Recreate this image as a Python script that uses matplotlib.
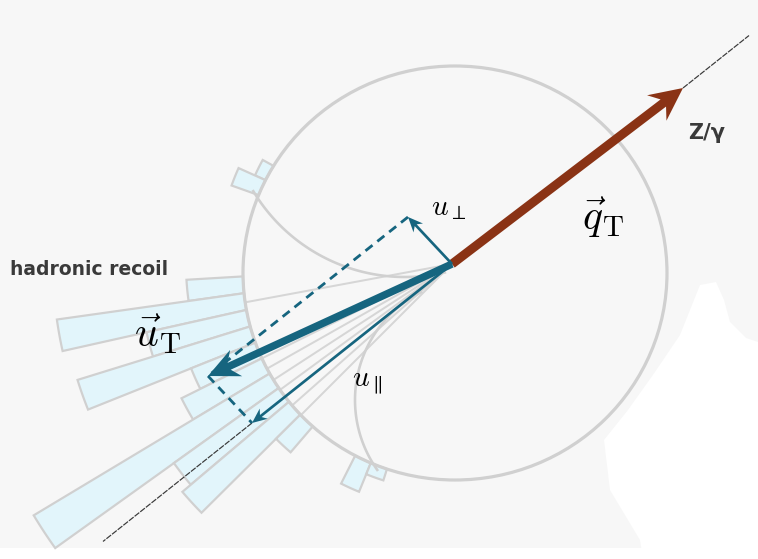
import numpy as np
import matplotlib
matplotlib.use('Agg')
import matplotlib.pyplot as plt
from matplotlib.patches import Polygon, Ellipse, FancyArrow

plt.rcParams['mathtext.fontset'] = 'cm'

# ---------------- data ----------------
# hadronic-recoil polar histogram: bin centre angle (deg, counter-clockwise) and outer radius (px)
bar_angles = [153.5, 158.1, 185.7, 190.3, 194.9, 199.5, 204.1, 208.7, 213.3, 217.9, 222.5, 227.1, 245.5, 250.1]
bar_radii = [216, 234, 266, 399, 313, 392, 281, 302, 488, 342, 353, 248, 246, 227]
bar_width_deg = 4.6
fan_angles = [190.5, 206.4, 209.5, 213.0, 216.2, 221.5, 225.0]

# vectors in pixel units (x right, y down)
origin = np.array([452.0, 264.0])
q_T = np.array([231.0, -176.0])
u_par = np.array([-200.0, 159.0])
u_perp = np.array([-44.0, -47.0])
u_T = u_par + u_perp
axis_low = 1.745     # axis continues beyond u_par tip (in units of u_par)
axis_high = 0.33     # axis continues beyond q_T tip (in units of u_par length)

# detector outline
ell_c = np.array([455.0, 273.0]); ell_a = 212.0; ell_b = 207.0

TEAL = '#16657f'
BROWN = '#8a3315'
GRAY = '#d0d0d0'
BARFILL = '#e2f5fb'

W, H = 758, 559
fig = plt.figure(figsize=(W / 100, H / 100), dpi=100)
fig.patch.set_facecolor('#f7f7f7')
ax = fig.add_axes([0, 0, 1, 1])
ax.set_xlim(0, W); ax.set_ylim(H, 0)
ax.axis('off')
ax.set_facecolor('#f7f7f7')

def px(p):
    return p * 0.72

# white areas of the background
ax.add_patch(Polygon([(0, 548), (W, 548), (W, H), (0, H)], closed=True, fc='white', ec='none', zorder=0))
ax.add_patch(Polygon([(700, 285), (716, 282), (724, 300), (730, 322), (746, 338), (758, 342), (758, 559),
                      (643, 559), (640, 540), (610, 490), (604, 440), (628, 410), (655, 372), (680, 335),
                      (692, 305)], closed=True, fc='white', ec='none', zorder=0))

def direction(deg):
    t = np.deg2rad(deg)
    return np.array([np.cos(t), -np.sin(t)])

def r_inner(deg):
    d = direction(deg)
    p = origin - ell_c
    A = (d[0] / ell_a) ** 2 + (d[1] / ell_b) ** 2
    B = 2 * (p[0] * d[0] / ell_a ** 2 + p[1] * d[1] / ell_b ** 2)
    C = (p[0] / ell_a) ** 2 + (p[1] / ell_b) ** 2 - 1
    return (-B + np.sqrt(B * B - 4 * A * C)) / (2 * A)

# bars
for ang, rout in zip(bar_angles, bar_radii):
    phis = np.linspace(ang - bar_width_deg / 2, ang + bar_width_deg / 2, 16)
    inner = [origin + r_inner(f) * direction(f) for f in phis]
    outer = [origin + rout * direction(f) for f in phis[::-1]]
    ax.add_patch(Polygon(inner + outer, closed=True, fc=BARFILL, ec=GRAY, lw=px(2.2), zorder=2))

# fan lines inside detector
for ang in fan_angles:
    d = direction(ang)
    a = origin + 12 * d
    b = origin + r_inner(ang) * d
    ax.plot([a[0], b[0]], [a[1], b[1]], color='#d6d6d6', lw=px(2), zorder=3, solid_capstyle='butt')

# detector ellipse
ax.add_patch(Ellipse(ell_c, 2 * ell_a, 2 * ell_b, fc='none', ec=GRAY, lw=px(3.2), zorder=3))

# inner arcs (jet cones)
t = np.deg2rad(np.linspace(77, 149, 80))
ax.plot(405 + 177 * np.cos(t), 100 + 177 * np.sin(t), color=GRAY, lw=px(2.6), zorder=3)
t = np.deg2rad(np.linspace(144.7, 243, 80))
ax.plot(476 + 121 * np.cos(t), 400 + 121 * np.sin(t), color=GRAY, lw=px(2.6), zorder=3)

# axis line (visible beyond the arrow tips)
p0 = origin + u_par
p1 = origin + axis_low * u_par
ax.plot([p0[0], p1[0]], [p0[1], p1[1]], color='#3a3a3a', lw=px(1.2), ls=(0, (5, 1)), zorder=4)
q0 = origin + q_T
q1 = origin + q_T - axis_high * u_par
ax.plot([q0[0], q1[0]], [q0[1], q1[1]], color='#3a3a3a', lw=px(1.2), ls=(0, (5, 1)), zorder=4)

# dashed projections
a = origin + u_perp; b = origin + u_T; c = origin + u_par
ax.plot([a[0], b[0]], [a[1], b[1]], color=TEAL, lw=px(2.8), ls=(0, (3.2, 2.2)), zorder=5)
ax.plot([b[0], c[0]], [b[1], c[1]], color=TEAL, lw=px(2.8), ls=(0, (3.2, 2.2)), zorder=5)

# arrows
def arrow(vec, width, hw, hl, color):
    ax.add_patch(FancyArrow(origin[0], origin[1], vec[0], vec[1], width=width, head_width=hw,
                            head_length=hl, length_includes_head=True, overhang=0.25,
                            fc=color, ec='none', lw=0, zorder=6))

arrow(q_T, 9, 32, 33, BROWN)
arrow(u_par, 2.7, 13, 15, TEAL)
arrow(u_perp, 2.7, 13, 15, TEAL)
arrow(u_T, 7.5, 29, 31, TEAL)

# labels
ax.text(10, 275, 'hadronic recoil', fontsize=13.5, fontweight='bold', color='#3a3a3a',
        ha='left', va='baseline', zorder=7)
ax.text(688, 139, r'Z/γ', fontsize=15, fontweight='bold', color='#3a3a3a',
        ha='left', va='baseline', zorder=7)
ax.text(134, 347, r'$\vec{u}_{\mathrm{T}}$', fontsize=30, color='black', ha='left', va='baseline', zorder=7)
ax.text(582, 230, r'$\vec{q}_{\mathrm{T}}$', fontsize=30, color='black', ha='left', va='baseline', zorder=7)
ax.text(431, 215, r'$u_{\perp}$', fontsize=21, color='black', ha='left', va='baseline', zorder=7)
ax.text(352, 385, r'$u_{\parallel}$', fontsize=21, color='black', ha='left', va='baseline', zorder=7)

fig.savefig('out.png', dpi=100, facecolor=fig.get_facecolor())
